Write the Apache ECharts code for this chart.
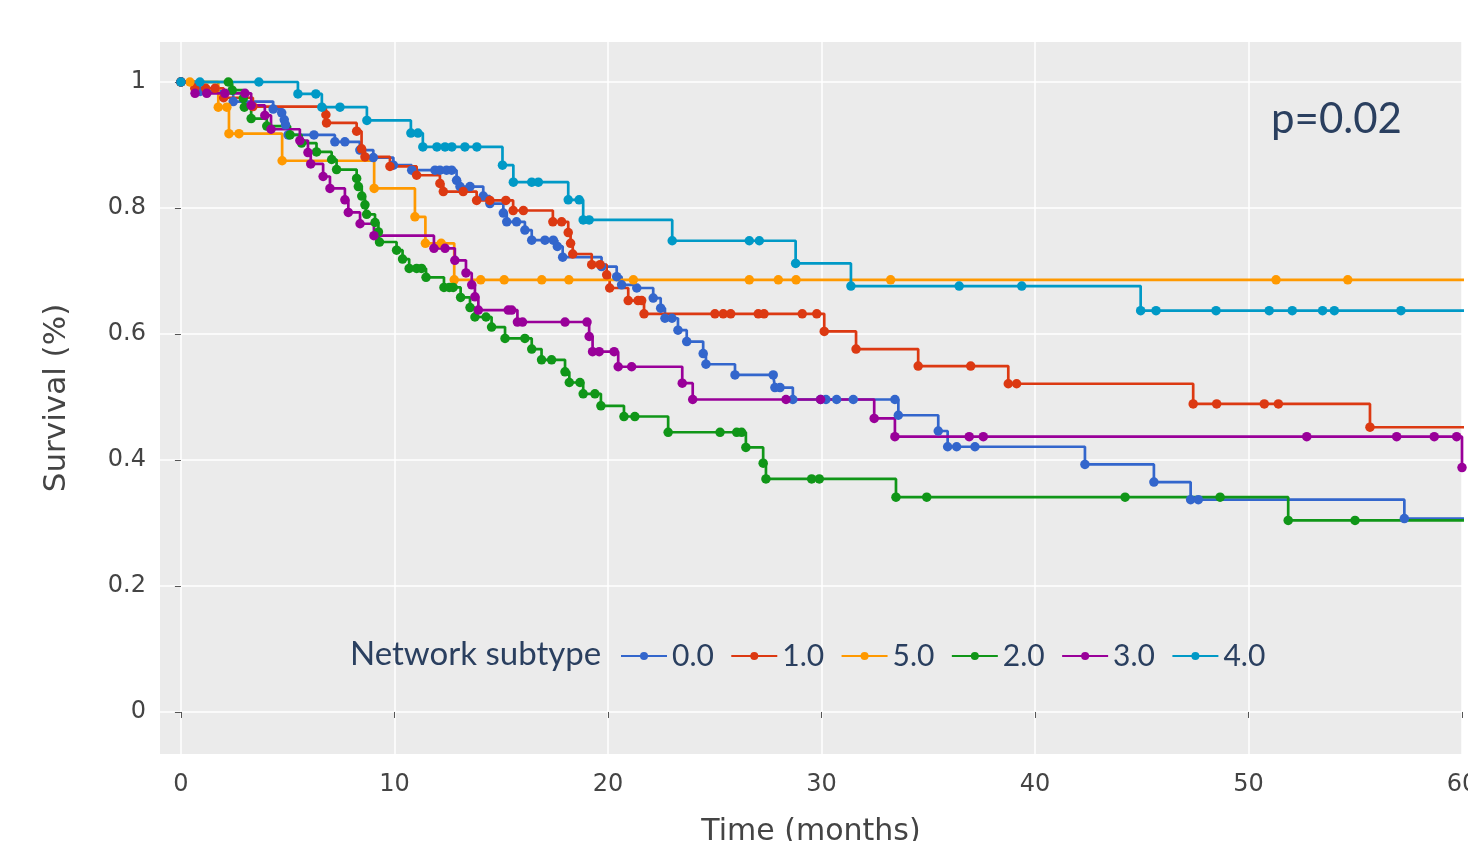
<!DOCTYPE html>
<html>
<head>
<meta charset="utf-8">
<title>Survival by network subtype</title>
<script src="https://cdn.jsdelivr.net/npm/echarts@6/dist/echarts.min.js"></script>
<style>
  html, body { margin: 0; padding: 0; background: #fff; overflow: hidden; }
  .km-chart { width: 1468px; height: 841px; }
</style>
</head>
<body>
<div class="km-chart"></div>
<script>
// * 生存曲线 (Kaplan-Meier)

// ? 分组名称与颜色
const subtypes = ['0.0', '1.0', '5.0', '2.0', '3.0', '4.0']
const colors = ['#3366CC', '#DC3912', '#FF9900', '#109618', '#990099', '#0099C6']

// ? 刻度
const xTicks = [0, 10, 20, 30, 40, 50, 60]
const yTicks = [0, 0.2, 0.4, 0.6, 0.8, 1]

// ! 每组数据：[时间(月), 生存率]
const km0 = [[0, 1], [0.9, 0.985], [2.45, 0.969], [4.32, 0.957], [4.72, 0.951], [4.84, 0.94], [4.9, 0.932], [5.02, 0.916],
  [6.23, 0.916], [7.21, 0.905], [7.68, 0.905], [8.38, 0.892], [9.01, 0.88], [9.95, 0.868], [10.81, 0.86], [11.9, 0.86],
  [12.13, 0.86], [12.44, 0.86], [12.68, 0.86], [12.91, 0.844], [13.07, 0.834], [13.54, 0.834], [14.16, 0.819], [14.47, 0.807],
  [15.1, 0.792], [15.26, 0.778], [15.72, 0.778], [16.11, 0.765], [16.43, 0.749], [17.05, 0.749], [17.44, 0.749], [17.63, 0.739],
  [17.88, 0.722], [19.7, 0.707], [20.41, 0.691], [20.64, 0.678], [21.35, 0.673], [22.12, 0.657], [22.47, 0.641], [22.67, 0.625],
  [23.0, 0.625], [23.28, 0.606], [23.69, 0.588], [24.46, 0.569], [24.59, 0.552], [25.95, 0.535], [27.74, 0.535], [27.82, 0.515],
  [28.06, 0.515], [28.66, 0.496], [29.96, 0.496], [30.21, 0.496], [30.71, 0.496], [31.49, 0.496], [33.44, 0.496], [33.6, 0.471],
  [35.47, 0.446], [35.91, 0.421], [36.33, 0.421], [37.19, 0.421], [42.34, 0.393], [45.57, 0.365], [47.29, 0.337], [47.65, 0.337],
  [57.3, 0.307], [61, 0.307]]

const km1 = [[0, 1], [0.65, 0.99], [1.16, 0.99], [1.6, 0.99], [2.0, 0.975], [3.37, 0.961], [6.79, 0.948], [6.82, 0.935],
  [8.23, 0.922], [8.46, 0.894], [8.62, 0.881], [9.79, 0.866], [11.04, 0.852], [12.13, 0.839], [12.29, 0.826], [13.22, 0.826],
  [13.85, 0.812], [14.47, 0.812], [15.22, 0.812], [15.56, 0.796], [16.04, 0.796], [17.42, 0.778], [17.83, 0.778], [18.14, 0.761],
  [18.25, 0.744], [18.35, 0.727], [19.24, 0.71], [19.63, 0.71], [19.94, 0.694], [20.08, 0.673], [20.95, 0.653], [21.41, 0.653],
  [21.58, 0.653], [21.69, 0.632], [25.01, 0.632], [25.4, 0.632], [25.75, 0.632], [27.04, 0.632], [27.31, 0.632], [29.1, 0.632],
  [29.78, 0.632], [30.13, 0.604], [31.62, 0.576], [34.53, 0.549], [36.99, 0.549], [38.75, 0.521], [39.14, 0.521], [47.41, 0.489],
  [48.51, 0.489], [50.74, 0.489], [51.4, 0.489], [55.69, 0.452], [61, 0.452]]

const km5 = [[0, 1], [0.42, 1], [1.75, 0.96], [2.15, 0.96], [2.25, 0.918], [2.72, 0.918], [4.74, 0.875], [9.05, 0.831],
  [10.96, 0.786], [11.45, 0.744], [12.19, 0.744], [12.8, 0.686], [14.04, 0.686], [15.14, 0.686], [16.9, 0.686], [18.17, 0.686],
  [21.19, 0.686], [26.62, 0.686], [27.98, 0.686], [28.81, 0.686], [33.24, 0.686], [51.29, 0.686], [54.65, 0.686], [61, 0.686]]

const km2 = [[0, 1], [2.22, 1], [2.4, 0.987], [2.92, 0.974], [2.97, 0.96], [3.29, 0.942], [4.02, 0.93], [5.11, 0.916],
  [5.65, 0.903], [6.35, 0.889], [7.06, 0.877], [7.29, 0.861], [8.23, 0.847], [8.31, 0.834], [8.47, 0.819], [8.62, 0.805],
  [8.7, 0.79], [9.09, 0.777], [9.25, 0.762], [9.3, 0.746], [10.1, 0.733], [10.38, 0.719], [10.69, 0.704], [11.04, 0.704],
  [11.27, 0.704], [11.48, 0.69], [12.32, 0.674], [12.57, 0.674], [12.75, 0.674], [13.1, 0.658], [13.54, 0.642], [13.77, 0.627],
  [14.29, 0.627], [14.55, 0.611], [15.18, 0.593], [16.11, 0.593], [16.43, 0.576], [16.89, 0.559], [17.36, 0.559], [17.99, 0.54],
  [18.19, 0.523], [18.69, 0.523], [18.84, 0.505], [19.39, 0.505], [19.67, 0.486], [20.75, 0.469], [21.26, 0.469], [22.82, 0.444],
  [25.25, 0.444], [26.03, 0.444], [26.26, 0.444], [26.46, 0.42], [27.27, 0.395], [27.4, 0.37], [29.54, 0.37], [29.9, 0.37],
  [33.49, 0.341], [34.93, 0.341], [44.22, 0.341], [48.67, 0.341], [51.86, 0.304], [54.99, 0.304], [61, 0.304]]

const km3 = [[0, 1], [0.66, 0.982], [1.21, 0.982], [2.06, 0.982], [3.0, 0.982], [3.29, 0.963], [3.93, 0.947], [4.22, 0.925],
  [5.57, 0.907], [5.95, 0.888], [6.08, 0.87], [6.66, 0.85], [6.98, 0.831], [7.68, 0.813], [7.84, 0.793], [8.39, 0.775],
  [9.04, 0.756], [11.85, 0.736], [12.37, 0.736], [12.83, 0.717], [13.35, 0.697], [13.62, 0.678], [13.77, 0.659], [13.93, 0.638],
  [15.33, 0.638], [15.49, 0.638], [15.76, 0.619], [16.0, 0.619], [17.99, 0.619], [19.02, 0.619], [19.12, 0.596], [19.28, 0.572],
  [19.59, 0.572], [20.29, 0.572], [20.48, 0.548], [21.11, 0.548], [23.48, 0.522], [23.97, 0.496], [28.34, 0.496], [29.96, 0.496],
  [32.47, 0.466], [33.44, 0.437], [36.92, 0.437], [37.58, 0.437], [52.73, 0.437], [56.94, 0.437], [58.7, 0.437], [59.75, 0.437],
  [60, 0.388]]

const km4 = [[0, 1], [0.89, 1], [3.65, 1], [5.48, 0.981], [6.32, 0.981], [6.6, 0.96], [7.45, 0.96], [8.71, 0.939],
  [10.77, 0.919], [11.1, 0.919], [11.33, 0.897], [11.99, 0.897], [12.37, 0.897], [12.69, 0.897], [13.3, 0.897], [13.86, 0.897],
  [15.06, 0.868], [15.57, 0.841], [16.43, 0.841], [16.74, 0.841], [18.14, 0.813], [18.65, 0.813], [18.84, 0.781], [19.12, 0.781],
  [23.01, 0.748], [26.62, 0.748], [27.09, 0.748], [28.79, 0.712], [31.38, 0.676], [36.45, 0.676], [39.38, 0.676], [44.95, 0.637],
  [45.67, 0.637], [48.48, 0.637], [50.97, 0.637], [52.05, 0.637], [53.47, 0.637], [54.02, 0.637], [57.14, 0.637], [61, 0.637]]

// 与图例顺序一致
const seriesData = [km0, km1, km5, km2, km3, km4]

const axisFont = 'DejaVu Sans, Verdana, sans-serif'
const textFont = 'Lato, Open Sans, sans-serif'
const navy = '#2a3f5f'

// ? 初始化 echarts 实例对象
const kmChart = echarts.init(document.querySelector('.km-chart'))

const kmOption = {
  animation: false,
  title: [
    {
      text: 'Network subtype',
      left: 350,
      top: 638,
      padding: 0,
      textStyle: { fontFamily: textFont, fontSize: 33, fontWeight: 'normal', color: navy }
    },
    {
      text: 'p=0.02',
      left: 1271,
      top: 98,
      padding: 0,
      textStyle: { fontFamily: textFont, fontSize: 42, fontWeight: 'normal', color: navy }
    }
  ],
  legend: {
    data: subtypes,
    left: 620,
    top: 641,
    padding: 0,
    itemWidth: 46,
    itemHeight: 10,
    itemGap: 16.4,
    textStyle: { fontFamily: textFont, fontSize: 30, color: navy }
  },
  grid: {
    left: 160,
    right: 6,
    top: 42,
    bottom: 87,
    // ! v6 默认会把坐标轴文字挤进画布，这里关闭
    outerBoundsMode: 'none',
    containLabel: false,
    show: true,
    backgroundColor: '#ebebeb',
    borderWidth: 0
  },
  xAxis: {
    type: 'value',
    min: -0.98,
    max: 60,
    name: 'Time (months)',
    nameLocation: 'middle',
    nameGap: 63,
    nameTextStyle: { fontFamily: axisFont, fontSize: 30, color: '#444' },
    axisLine: { show: false },
    axisTick: { show: true, length: 6, customValues: xTicks, lineStyle: { color: '#555' } },
    axisLabel: { customValues: xTicks, margin: 19, fontFamily: axisFont, fontSize: 24, color: '#444' },
    splitLine: { show: true, lineStyle: { color: '#fff', width: 1.5 } }
  },
  yAxis: {
    type: 'value',
    min: -0.0667,
    max: 1.0635,
    name: 'Survival (%)',
    nameLocation: 'middle',
    nameRotate: 90,
    nameGap: 88,
    nameTextStyle: { fontFamily: axisFont, fontSize: 31, color: '#444' },
    axisLine: { show: false },
    axisTick: { show: true, length: 6, customValues: yTicks, lineStyle: { color: '#555' } },
    axisLabel: { customValues: yTicks, margin: 14, fontFamily: axisFont, fontSize: 24, color: '#444' },
    splitLine: { show: true, lineStyle: { color: '#fff', width: 1.5 } }
  },
  series: subtypes.map((name, i) => ({
    type: 'line',
    name: name,
    data: seriesData[i],
    // hv 阶梯：先水平再垂直
    step: 'end',
    symbol: 'circle',
    symbolSize: 9.5,
    clip: true,
    color: colors[i],
    lineStyle: { width: 2.7, color: colors[i] },
    itemStyle: { color: colors[i] },
    emphasis: { disabled: true }
  }))
}

// ? 应用配置项
kmChart.setOption(kmOption)
</script>
</body>
</html>
